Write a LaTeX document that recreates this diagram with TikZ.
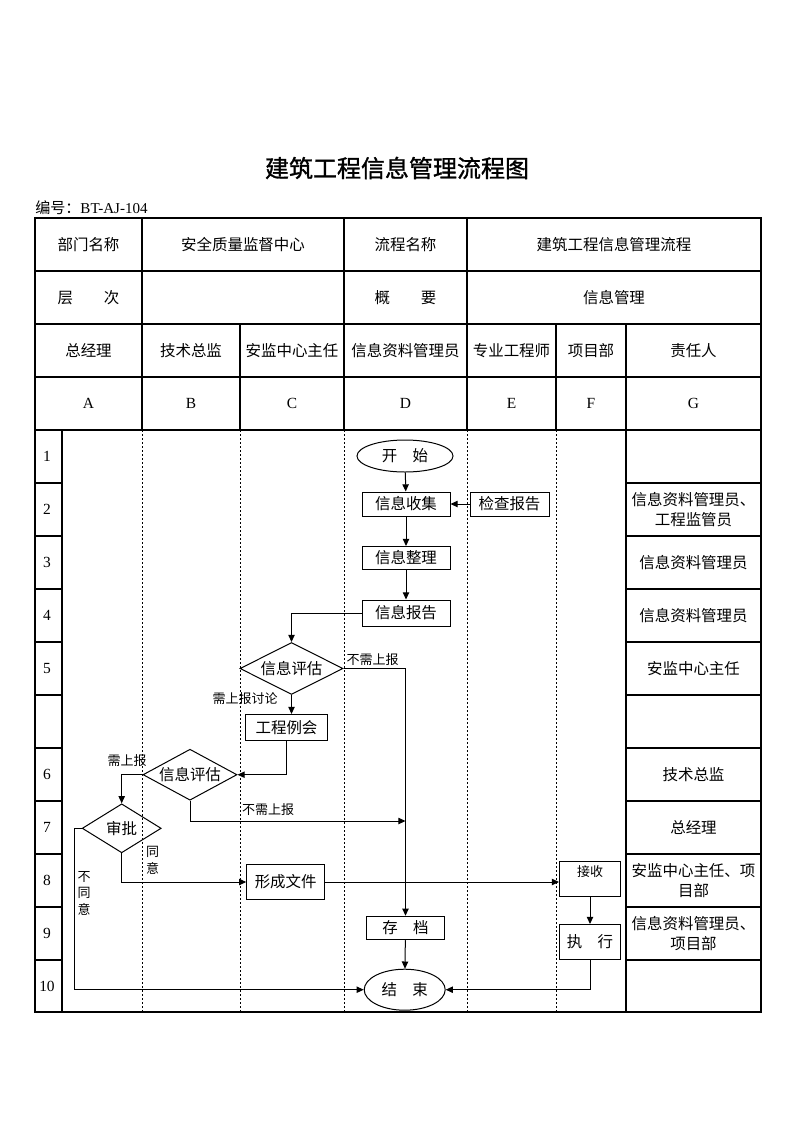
\documentclass[tikz,border=0pt]{standalone}
\usepackage{fontspec}
\setmainfont{Liberation Serif}
\newfontfamily\cjk{Noto Sans CJK SC}
\newfontfamily\cjktitle[FakeBold=1.2]{Noto Sans CJK SC}
\usetikzlibrary{shapes.geometric,arrows.meta}
\begin{document}
\begin{tikzpicture}[x=0.75pt,y=-0.75pt,
  tline/.style={line width=0.8pt},
  lane/.style={line width=0.6pt,dash pattern=on 1.6pt off 1.4pt},
  arr/.style={line width=0.75pt,-{Triangle[length=5.4pt,width=4.8pt]}},
  box/.style={draw,line width=0.75pt,rectangle,inner sep=0pt,font=\cjk\fontsize{11.6}{14}\selectfont},
  oval/.style={draw,line width=0.75pt,ellipse,inner sep=0pt,font=\cjk\fontsize{11.6}{14}\selectfont},
  dia/.style={draw,line width=0.75pt,diamond,inner sep=0pt,font=\cjk\fontsize{11.6}{14}\selectfont},
  txt/.style={font=\cjk\fontsize{11.6}{15}\selectfont,inner sep=0pt,align=center},
  small/.style={font=\cjk\fontsize{9.75}{12.5}\selectfont,inner sep=0pt,align=center},
  num/.style={font=\fontsize{11.6}{14}\selectfont,inner sep=0pt}
]
\useasboundingbox (0,0) rectangle (793,1122);

% title
\node[font=\cjktitle\fontsize{18}{20}\selectfont,inner sep=0pt] (title) at (397,168) {建筑工程信息管理流程图};
\node[anchor=west,inner sep=0pt,font=\fontsize{11.3}{14}\selectfont] (code) at (35,208) {{\cjk 编号：}BT-AJ-104};

% table frame
\draw[tline] (35,218) rectangle (761,1012);
\foreach \y in {271,324,377,430} \draw[tline] (35,\y) -- (761,\y);
\foreach \x in {142,344,467} \draw[tline] (\x,218) -- (\x,324);
\foreach \x in {142,240,344,467,556,626} \draw[tline] (\x,324) -- (\x,430);
\draw[tline] (62,430) -- (62,1012);
\draw[tline] (626,430) -- (626,1012);
\foreach \x in {142,240,344,467,556} \draw[lane] (\x,430) -- (\x,1012);
\foreach \y in {483,536,...,960} \draw[tline] (35,\y) -- (62,\y) (626,\y) -- (761,\y);

% header texts
\node[txt] (h11) at (88.5,244.5) {部门名称};
\node[txt] (h12) at (243,244.5) {安全质量监督中心};
\node[txt] (h13) at (405.5,244.5) {流程名称};
\node[txt] (h14) at (614,244.5) {建筑工程信息管理流程};
\node[txt] (h21) at (88.5,297.5) {层　　次};
\node[txt] (h23) at (405.5,297.5) {概　　要};
\node[txt] (h24) at (614,297.5) {信息管理};
\node[txt] (cA) at (88.5,350.5) {总经理};
\node[txt] (cB) at (191,350.5) {技术总监};
\node[txt] (cC) at (292,350.5) {安监中心主任};
\node[txt] (cD) at (405.5,350.5) {信息资料管理员};
\node[txt] (cE) at (511.5,350.5) {专业工程师};
\node[txt] (cF) at (591,350.5) {项目部};
\node[txt] (cG) at (693.5,350.5) {责任人};
\foreach \l/\x in {A/88.5,B/191,C/292,D/405.5,E/511.5,F/591,G/693.5}
  \node[num] (L\l) at (\x,403.5) {\l};

% row numbers
\foreach \n/\y in {1/456.5,2/509.5,3/562.5,4/615.5,5/668.5,6/774.5,7/827.5,8/880.5,9/933.5,10/986.5}
  \node[num] (r\n) at (47,\y) {\n};

% responsible column
\node[txt] (g2) at (693.5,509.5) {信息资料管理员、\\工程监管员};
\node[txt] (g3) at (693.5,562.5) {信息资料管理员};
\node[txt] (g4) at (693.5,615.5) {信息资料管理员};
\node[txt] (g5) at (693.5,668.5) {安监中心主任};
\node[txt] (g6) at (693.5,774.5) {技术总监};
\node[txt] (g7) at (693.5,827.5) {总经理};
\node[txt] (g8) at (693.5,880.5) {安监中心主任、项\\目部};
\node[txt] (g9) at (693.5,933.5) {信息资料管理员、\\项目部};

% flow nodes
\node[oval,minimum width=72pt,minimum height=24pt] (start) at (405,456) {开　始};
\node[box,minimum width=66pt,minimum height=18pt] (collect) at (406,504) {信息收集};
\node[box,minimum width=59.25pt,minimum height=18pt] (check) at (509.5,504) {检查报告};
\node[box,minimum width=66pt,minimum height=17.25pt] (arrange) at (406,558) {信息整理};
\node[box,minimum width=66pt,minimum height=19.5pt] (report) at (406,613) {信息报告};
\node[dia,minimum width=77.25pt,minimum height=39pt] (evalC) at (291.5,668.5) {\makebox[0pt]{信息评估}};
\node[box,minimum width=61.5pt,minimum height=19.5pt] (meeting) at (286.5,727.5) {工程例会};
\node[dia,minimum width=70.5pt,minimum height=38.25pt] (evalB) at (190,774.7) {\makebox[0pt]{信息评估}};
\node[dia,minimum width=59.25pt,minimum height=36.75pt] (approve) at (121.7,828.3) {\makebox[0pt]{审批}};
\node[box,minimum width=58.5pt,minimum height=26.25pt] (doc) at (285.7,882) {形成文件};
\node[box,minimum width=45.75pt,minimum height=25.9pt,
  label={[small,anchor=north,yshift=-3pt]north:接收}] (receive) at (590,879) {};
\node[box,minimum width=45.75pt,minimum height=26.25pt] (exec) at (590,942) {执　行};
\node[box,minimum width=58.5pt,minimum height=17.6pt] (archive) at (405.5,928) {存　档};
\node[oval,minimum width=60.75pt,minimum height=30.75pt] (end) at (404.7,989.7) {结　束};
\coordinate (m1) at (405.5,821);

% connectors
\draw[arr] (start) -- (collect);
\draw[arr] (check) -- (collect);
\draw[arr] (collect) -- (arrange);
\draw[arr] (arrange) -- (report);
\draw[arr] (report.west) -| (evalC.north);
\draw[arr] (evalC.east) -| (archive.north);
\draw[arr] (evalC.south) -- (evalC.south |- meeting.north);
\draw[arr] (meeting.south) |- (evalB.east);
\draw[arr] (evalB.west) -| (approve.north);
\draw[arr] (evalB.south) |- (m1);
\draw[arr] (approve.south) |- (doc.west);
\draw[arr] (doc.east) -- (doc.east -| receive.west);
\draw[arr] (receive) -- (exec);
\draw[arr] (exec.south) |- (end.east);
\draw[arr] (approve.west) -- ++(-7,0) |- (end.west);
\draw[arr] (archive) -- (end);

% connector labels
\node[small] (l1) at (372.5,660) {不需上报};
\node[small,anchor=east] (l2) at (278,699) {需上报讨论};
\node[small] (l3) at (127,761) {需上报};
\node[small] (l4) at (268,810) {不需上报};
\node[small] (l5) at (152.7,860) {同\\意};
\node[small] (l6) at (84,893.3) {不\\同\\意};
\end{tikzpicture}
\end{document}
